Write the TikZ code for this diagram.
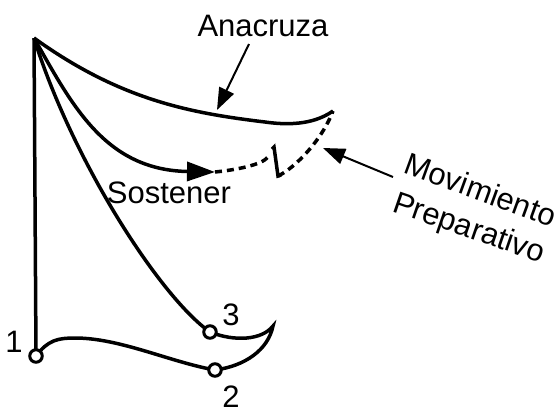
\documentclass[tikz,border=0pt]{standalone}
\usepackage{fontspec}
\setmainfont{Liberation Sans}
\usepackage{tikz}
\usetikzlibrary{arrows.meta, positioning}

\begin{document}
\begin{tikzpicture}[
    x=1pt, y=-1pt,
    font=\fontsize{31}{37}\selectfont,
    stroke/.style={line width=3.5pt},
    prep/.style={line width=3.5pt, dash pattern=on 7pt off 5pt},
    dot/.style={draw, circle, line width=3pt, fill=white, minimum size=12.5pt, inner sep=0pt},
    lbl/.style={anchor=base, inner sep=0pt},
    pointer/.style={line width=2pt, -{Triangle[length=22pt, width=16pt]}}
]
\useasboundingbox (0,0) rectangle (560,410);

% Points of the gesture
\coordinate (apex) at (34,38);
\coordinate (c1) at (36,356);
\coordinate (c2) at (215,370);
\coordinate (c3) at (210,332);
\coordinate (cusp) at (273,326);
\coordinate (hold) at (215,172);
\coordinate (anaEnd) at (333,111);
\coordinate (kinkTop) at (274,147);
\coordinate (kinkBot) at (278,176);

% Beat path
\draw[stroke] (apex) -- (c1);
\draw[stroke] (c1) .. controls (48,340) and (58,338) .. (75,338)
    .. controls (120,338) and (170,362) .. (c2)
    .. controls (245,366) and (268,350) .. (cusp)
    .. controls (262,340) and (235,342) .. (c3);
\draw[stroke] (c3) .. controls (160,297) and (72,160) .. (apex);

% Anacruza and Sostener
\draw[stroke] (apex) .. controls (120,100) and (190,113) .. (265,122)
    .. controls (300,127) and (320,120) .. (anaEnd);
\draw[stroke, -{Triangle[length=28pt, width=19pt]}] (apex) .. controls (72,105) and (105,170) .. (hold);

% Preparatory move
\draw[prep] (hold) .. controls (235,170) and (262,165) .. (268,157);
\draw[line width=3.5pt] (272,149) -- (kinkTop) -- (kinkBot) -- (281,175);
\draw[prep] (kinkBot) .. controls (295,168) and (322,140) .. (anaEnd);

\node[dot] (p1) at (c1) {};
\node[dot] (p2) at (c2) {};
\node[dot] (p3) at (c3) {};

% Labels
\node[lbl] (n1) at (14,352) {1};
\node[lbl] (n2) at (231,407) {2};
\node[lbl] (n3) at (231,325) {3};
\node[lbl] (anacruza) at (263,36) {Anacruza};
\node[lbl] (sostener) at (169,203) {Sostener};
\node[lbl, rotate=-20] (mov) at (477,200) {Movimiento};
\node[lbl, rotate=-19] (prepa) at (466,237) {Preparativo};

\coordinate (anaTail) at (249,44);
\coordinate (anaTip) at (217,110);
\coordinate (movTail) at (393,177);
\coordinate (movTip) at (323,148);
\draw[pointer] (anaTail) -- (anaTip);
\draw[pointer] (movTail) -- (movTip);

\end{tikzpicture}
\end{document}
